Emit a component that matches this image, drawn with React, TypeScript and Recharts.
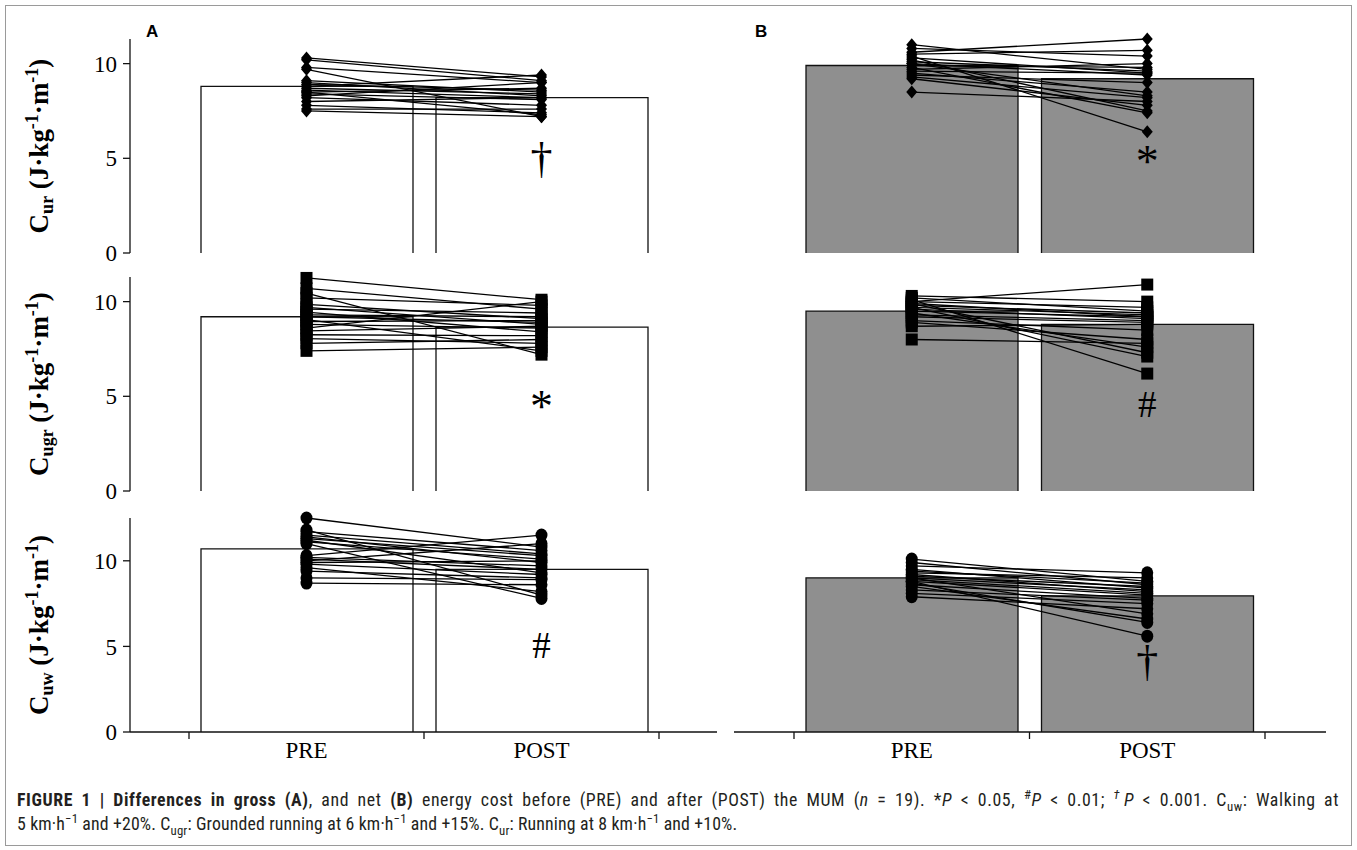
import React from 'react';
import { ComposedChart, Bar, Line, XAxis, YAxis, ReferenceLine, ReferenceDot } from 'recharts';

// ---------- data ----------
const conditions = ['PRE', 'POST'];
const yTicks = [0, 5, 10];

// Cur (running 8 km/h +10%) — gross (A)
const urGrossPre = [10.3, 10.2, 9.8, 9.7, 9.1, 9.0, 8.9, 8.8, 8.7, 8.6, 8.5, 8.5, 8.4, 8.3, 8.2, 8.0, 7.8, 7.6, 7.5];
const urGrossPost = [9.3, 9.1, 9.0, 7.2, 8.5, 8.3, 8.6, 9.4, 8.4, 8.2, 7.3, 8.7, 8.1, 9.0, 7.8, 8.2, 7.4, 7.6, 7.2];
const urGrossMean = [8.8, 8.2];
// Cur — net (B)
const urNetPre = [11.0, 10.8, 10.6, 10.5, 10.4, 10.3, 10.2, 10.1, 10.0, 10.0, 9.9, 9.8, 9.7, 9.6, 9.5, 9.4, 9.3, 9.2, 8.5];
const urNetPost = [9.7, 10.4, 11.3, 10.7, 6.4, 9.5, 7.5, 9.6, 9.4, 8.3, 9.8, 7.4, 10.0, 9.5, 8.5, 9.0, 8.2, 7.8, 8.0];
const urNetMean = [9.9, 9.2];

// Cugr (grounded running) — gross (A)
const ugrGrossPre = [11.25, 10.7, 10.45, 10.2, 9.85, 9.7, 9.6, 9.45, 9.3, 9.2, 9.05, 8.95, 8.8, 8.6, 8.45, 8.25, 8.05, 7.8, 7.4];
const ugrGrossPost = [10.1, 9.6, 7.2, 9.8, 9.1, 8.8, 9.4, 8.4, 9.2, 8.9, 7.4, 9.0, 8.6, 10.0, 8.7, 8.2, 7.8, 8.0, 7.6];
const ugrGrossMean = [9.2, 8.65];
// Cugr — net (B)
const ugrNetPre = [10.3, 10.2, 10.1, 10.0, 10.0, 9.9, 9.9, 9.8, 9.7, 9.7, 9.6, 9.5, 9.4, 9.3, 9.2, 9.0, 8.9, 8.7, 8.0];
const ugrNetPost = [10.0, 9.5, 6.2, 10.9, 9.7, 7.3, 9.2, 9.4, 7.1, 9.3, 9.1, 9.2, 7.6, 9.0, 8.9, 8.5, 8.0, 8.8, 7.8];
const ugrNetMean = [9.5, 8.8];

// Cuw (walking) — gross (A)
const uwGrossPre = [12.5, 11.8, 11.7, 11.5, 11.4, 11.3, 11.2, 11.1, 11.0, 10.3, 10.2, 10.1, 10.0, 9.9, 9.8, 9.6, 9.4, 9.0, 8.7];
const uwGrossPost = [10.8, 8.0, 10.6, 10.4, 9.9, 10.3, 9.3, 10.1, 7.8, 11.5, 9.7, 9.5, 11.0, 10.0, 9.2, 8.2, 9.0, 8.9, 8.6];
const uwGrossMean = [10.7, 9.5];
// Cuw — net (B)
const uwNetPre = [10.1, 9.9, 9.7, 9.5, 9.4, 9.3, 9.2, 9.1, 9.0, 9.0, 8.9, 8.8, 8.8, 8.7, 8.6, 8.5, 8.3, 8.1, 7.9];
const uwNetPost = [8.8, 8.6, 9.3, 8.4, 8.7, 9.0, 8.2, 8.5, 6.9, 8.3, 8.1, 5.6, 8.0, 6.4, 7.8, 6.6, 7.7, 7.5, 7.2];
const uwNetMean = [9.0, 7.95];

// significance symbols and the value at which they sit
const annotSymbols = ['†', '*', '*', '#', '#', '†'];
const annotValues = [4.2, 4.0, 3.65, 3.9, 4.3, 3.3];

// ---------- styling ----------
const SERIF = '"Liberation Serif", "Times New Roman", serif';
const SANS = '"Liberation Sans", Arial, sans-serif';
const CAPTION = '"Liberation Sans Narrow", "Arial Narrow", "Roboto Condensed", sans-serif';
const INK = '#111';

type Shape = 'diamond' | 'square' | 'circle';

function renderMarker(shape: Shape) {
  return (p: any) => {
    const { cx, cy, index } = p;
    const k = `m-${index}-${Math.round(cx || 0)}-${Math.round(cy || 0)}`;
    if (cx == null || cy == null) return <g key={k} />;
    if (shape === 'diamond')
      return <path key={k} d={`M${cx},${cy - 6.5}L${cx + 5.5},${cy}L${cx},${cy + 6.5}L${cx - 5.5},${cy}Z`} fill="#000" />;
    if (shape === 'square') return <rect key={k} x={cx - 6} y={cy - 6} width={12} height={12} fill="#000" />;
    return <ellipse key={k} cx={cx} cy={cy} rx={6} ry={6.5} fill="#000" />;
  };
}

function barShape(fill: string) {
  return (p: any) => {
    const { x, y, width, height } = p;
    return (
      <g>
        <rect x={x} y={y} width={width} height={height} fill={fill} />
        <path d={`M${x},${y + height}V${y}H${x + width}V${y + height}`} fill="none" stroke={INK} strokeWidth={1.3} />
      </g>
    );
  };
}

function yLabel(sub: string) {
  return (props: any) => {
    const vb = props.viewBox || { x: 0, y: 0, width: 130, height: 214 };
    const cx = vb.x + 48;
    const cy = vb.y + vb.height / 2;
    return (
      <text
        x={cx}
        y={cy}
        transform={`rotate(-90 ${cx} ${cy})`}
        textAnchor="middle"
        fontFamily={SERIF}
        fontWeight="bold"
        fontSize={27}
        fill="#000"
      >
        C<tspan fontSize={18} dy={5}>{sub}</tspan>
        <tspan dy={-5}> (J·kg</tspan>
        <tspan fontSize={18} dy={-10}>-1</tspan>
        <tspan dy={10}>·m</tspan>
        <tspan fontSize={18} dy={-10}>-1</tspan>
        <tspan dy={10}>)</tspan>
      </text>
    );
  };
}

interface PanelProps {
  pre: number[];
  post: number[];
  mean: number[];
  shape: Shape;
  fill: string;
  domain: [number, number];
  left: boolean;
  bottom: boolean;
  sub: string;
  symbol: string;
  symbolValue: number;
  top: number;
}

function Panel(pp: PanelProps) {
  const data = conditions.map((c, ci) => {
    const row: any = { cond: c, mean: pp.mean[ci] };
    (ci === 0 ? pp.pre : pp.post).forEach((v, i) => {
      row['s' + i] = v;
    });
    return row;
  });
  const chartLeft = pp.left ? 0 : 720;
  const width = pp.left ? 730 : 616;
  const height = pp.bottom ? 269 : 236;
  const margin = pp.left
    ? { top: 10, right: 13, bottom: pp.bottom ? 5 : 12, left: 0 }
    : { top: 10, right: 10, bottom: pp.bottom ? 5 : 12, left: 14 };
  const padding = pp.left ? { left: 59, right: 58 } : { left: 60, right: 61 };
  const symSize = pp.symbol === '#' ? 37 : pp.symbol === '*' ? 46 : 44;
  const edgeTicks: [string, 'start' | 'end'][] = [
    ['PRE', 'start'],
    ['POST', 'start'],
    ['POST', 'end'],
  ];
  return (
    <div style={{ position: 'absolute', left: chartLeft, top: pp.top }}>
      <ComposedChart width={width} height={height} data={data} margin={margin}>
        <XAxis
          dataKey="cond"
          type="category"
          padding={padding}
          hide={!pp.bottom}
          height={40}
          axisLine={{ stroke: INK, strokeWidth: 1.3 }}
          tickLine={false}
          tickSize={6}
          tickMargin={4}
          tick={{ fontFamily: SERIF, fontSize: 23, fill: '#000' }}
        />
        <YAxis
          type="number"
          domain={pp.domain}
          ticks={yTicks}
          interval={0}
          hide={!pp.left}
          width={130}
          axisLine={{ stroke: INK, strokeWidth: 1.3 }}
          tickLine={{ stroke: INK, strokeWidth: 1.3 }}
          tickSize={7}
          tickMargin={6}
          tick={{ fontFamily: SERIF, fontSize: 23, fill: '#000' }}
          label={{ content: yLabel(pp.sub) }}
        />
        <Bar dataKey="mean" barSize={212} shape={barShape(pp.fill)} isAnimationActive={false} />
        {pp.pre.map((_, i) => (
          <Line
            key={'s' + i}
            dataKey={'s' + i}
            stroke="#000"
            strokeWidth={1.3}
            dot={renderMarker(pp.shape)}
            activeDot={false}
            isAnimationActive={false}
          />
        ))}
        <ReferenceDot
          x="POST"
          y={pp.symbolValue}
          r={0}
          shape={(p: any) => (
            <text x={p.cx} y={p.cy} textAnchor="middle" fontFamily={SERIF} fontSize={symSize} fill="#000">
              {pp.symbol}
            </text>
          )}
        />
        {pp.bottom &&
          edgeTicks.map(([c, pos], i) => (
            <ReferenceLine
              key={'e' + i}
              x={c}
              position={pos}
              shape={(p: any) => {
                const yb = Math.max(p.y1, p.y2);
                return <line x1={p.x1} x2={p.x1} y1={yb} y2={yb + 7} stroke={INK} strokeWidth={1.3} />;
              }}
            />
          ))}
      </ComposedChart>
    </div>
  );
}

const supStyle: React.CSSProperties = { fontSize: '0.72em', verticalAlign: 'super', lineHeight: 0 };
const subStyle: React.CSSProperties = { fontSize: '0.72em', verticalAlign: 'sub', lineHeight: 0 };

export default function App() {
  const rows = [
    { top: 29, domain: [0, 11.3] as [number, number], sub: 'ur', shape: 'diamond' as Shape, a: [urGrossPre, urGrossPost, urGrossMean], b: [urNetPre, urNetPost, urNetMean] },
    { top: 267, domain: [0, 11.3] as [number, number], sub: 'ugr', shape: 'square' as Shape, a: [ugrGrossPre, ugrGrossPost, ugrGrossMean], b: [ugrNetPre, ugrNetPost, ugrNetMean] },
    { top: 508, domain: [0, 12.5] as [number, number], sub: 'uw', shape: 'circle' as Shape, a: [uwGrossPre, uwGrossPost, uwGrossMean], b: [uwNetPre, uwNetPost, uwNetMean] },
  ];
  return (
    <div style={{ position: 'absolute', left: 0, top: 0, width: 1357, height: 850, background: '#fff', overflow: 'hidden' }}>
      <div style={{ position: 'absolute', left: 5, top: 5, width: 1345, height: 839, border: '1px solid #9a9a9a' }} />
      {rows.map((r, ri) => (
        <React.Fragment key={ri}>
          <Panel pre={r.a[0]} post={r.a[1]} mean={r.a[2]} shape={r.shape} fill="#ffffff" domain={r.domain} left bottom={ri === 2} sub={r.sub} symbol={annotSymbols[ri * 2]} symbolValue={annotValues[ri * 2]} top={r.top} />
          <Panel pre={r.b[0]} post={r.b[1]} mean={r.b[2]} shape={r.shape} fill="#8f8f8f" domain={r.domain} left={false} bottom={ri === 2} sub={r.sub} symbol={annotSymbols[ri * 2 + 1]} symbolValue={annotValues[ri * 2 + 1]} top={r.top} />
        </React.Fragment>
      ))}
      <div style={{ position: 'absolute', left: 146, top: 22, fontFamily: SANS, fontWeight: 'bold', fontSize: 17 }}>A</div>
      <div style={{ position: 'absolute', left: 755, top: 22, fontFamily: SANS, fontWeight: 'bold', fontSize: 17 }}>B</div>
      <div
        style={{
          position: 'absolute',
          left: 17,
          top: 788,
          width: 1322,
          fontFamily: CAPTION,
          fontSize: 17.8,
          color: '#231f20',
          lineHeight: '24px',
          whiteSpace: 'nowrap',
        }}
      >
        <div style={{ textAlign: 'justify', textAlignLast: 'justify', letterSpacing: 0.6 }}>
          <b>FIGURE 1 | Differences in gross (A)</b>, and net <b>(B)</b> energy cost before (PRE) and after (POST) the MUM (<i>n</i> = 19). *<i>P</i> &lt; 0.05, <span style={supStyle}>#</span>
          <i>P</i> &lt; 0.01; <span style={supStyle}><i>†</i></span>
          <i>P</i> &lt; 0.001. C<span style={subStyle}>uw</span>: Walking at
        </div>
        <div style={{ letterSpacing: 0.15 }}>
          5 km·h<span style={supStyle}>−1</span> and +20%. C<span style={subStyle}>ugr</span>: Grounded running at 6 km·h<span style={supStyle}>−1</span> and +15%. C
          <span style={subStyle}>ur</span>: Running at 8 km·h<span style={supStyle}>−1</span> and +10%.
        </div>
      </div>
    </div>
  );
}
